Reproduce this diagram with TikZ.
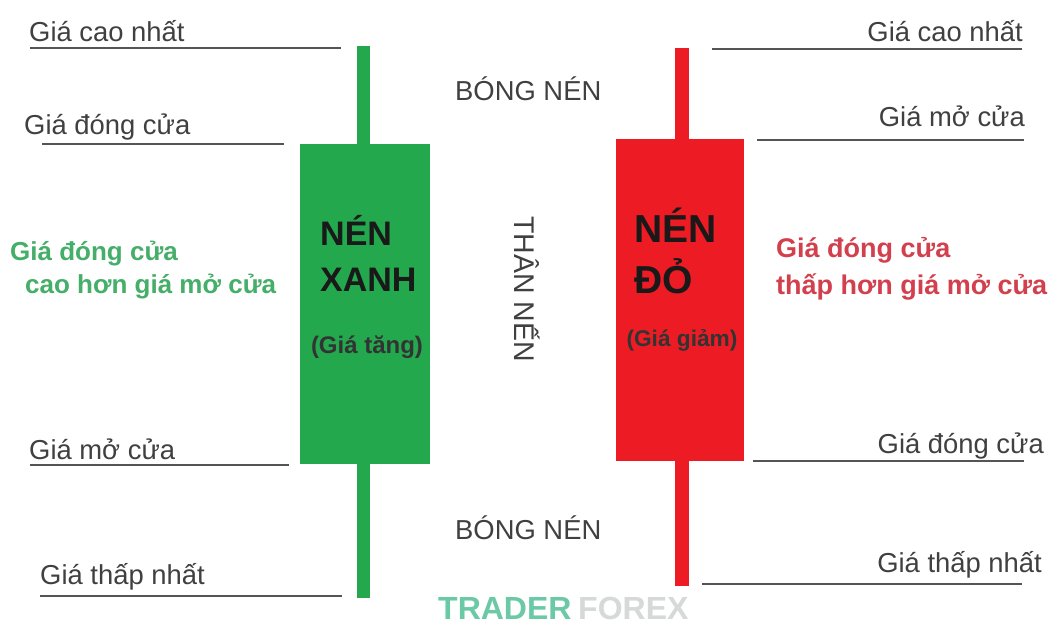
\documentclass[tikz,border=0pt]{standalone}
\usepackage{fontspec}
\setmainfont{Liberation Sans}
\definecolor{cgreen}{HTML}{23A84E}
\definecolor{cred}{HTML}{ED1C24}
\definecolor{cgray}{HTML}{555555}
\definecolor{tgreen}{HTML}{45AE68}
\definecolor{tred}{HTML}{D2404E}
\definecolor{wgreen}{HTML}{6CC9A6}
\definecolor{wgray}{HTML}{D5D9D8}
\tikzset{
  x=1pt,y=-1pt,
  lvl/.style={line width=2.2pt,draw=cgray},
  lab/.style={inner sep=0pt,text=black!75,font=\fontsize{27.4}{27.4}\selectfont},
  labl/.style={lab,anchor=base west},
  labr/.style={lab,anchor=base east},
  big/.style={inner sep=0pt,anchor=base west,text=black!90,font=\fontsize{34}{34}\selectfont\bfseries},
  bigr/.style={big,font=\fontsize{39}{39}\selectfont\bfseries},
  sub/.style={inner sep=0pt,anchor=base,text=black!80,font=\fontsize{24}{24}\selectfont\bfseries},
  subr/.style={sub,font=\fontsize{22.7}{22.7}\selectfont\bfseries},
  note/.style={inner sep=0pt,anchor=base west,font=\fontsize{26}{26}\selectfont\bfseries},
  noter/.style={note,font=\fontsize{27}{27}\selectfont\bfseries},
  wm/.style={inner sep=0pt,anchor=base west,font=\fontsize{32}{32}\selectfont\bfseries},
}
\begin{document}
\begin{tikzpicture}
\useasboundingbox (0,0) rectangle (1053,623);
\fill[white] (0,0) rectangle (1053,623);
% candles
\coordinate (gt) at (363.5,46); \coordinate (gb) at (363.5,598);
\coordinate (rt) at (682,48); \coordinate (rb) at (682,586);
\draw[cgreen,line width=13pt] (gt) -- (gb);
\draw[cred,line width=14pt] (rt) -- (rb);
\node[fill=cgreen,minimum width=130pt,minimum height=320pt,inner sep=0pt] (gbody) at (365,304) {};
\node[fill=cred,minimum width=128pt,minimum height=322pt,inner sep=0pt] (rbody) at (680,300) {};
% level lines
\coordinate (a1) at (30,48); \coordinate (a2) at (341,48);
\coordinate (b1) at (42,144); \coordinate (b2) at (284,144);
\coordinate (c1) at (30,465); \coordinate (c2) at (289,465);
\coordinate (d1) at (40,596); \coordinate (d2) at (342,596);
\coordinate (e1) at (712,49); \coordinate (e2) at (1022,49);
\coordinate (f1) at (757,140); \coordinate (f2) at (1024,140);
\coordinate (g1) at (753,461); \coordinate (g2) at (1024,461);
\coordinate (h1) at (702,584); \coordinate (h2) at (1022,584);
\foreach \p/\q in {a1/a2,b1/b2,c1/c2,d1/d2,e1/e2,f1/f2,g1/g2,h1/h2}
  \draw[lvl] (\p) -- (\q);
% left labels
\node[labl] (la) at (29,42) {Giá cao nhất};
\node[labl] (lb) at (24,135) {Giá đóng cửa};
\node[labl] (lc) at (29,459) {Giá mở cửa};
\node[labl] (ld) at (40,584) {Giá thấp nhất};
% right labels
\node[labr] (ra) at (1023,42) {Giá cao nhất};
\node[labr] (rb2) at (1025,127) {Giá mở cửa};
\node[labr] (rc) at (1044,453) {Giá đóng cửa};
\node[labr] (rd) at (1042,572) {Giá thấp nhất};
% centre labels
\node[labl] (s1) at (455,101) {BÓNG NÉN};
\node[labl] (s2) at (455,539) {BÓNG NÉN};
\node[lab,rotate=-90,anchor=center,font=\fontsize{28.5}{28.5}\selectfont] (s3) at (527,289) {THÂN NẾN};
% candle text
\node[big] (g1t) at (320,245) {NÉN};
\node[big] (g2t) at (320,291) {XANH};
\node[sub] (g3t) at (367,353) {(Giá tăng)};
\node[bigr] (r1t) at (634,242) {NÉN};
\node[bigr] (r2t) at (634,293) {ĐỎ};
\node[subr] (r3t) at (682,346) {(Giá giảm)};
% notes
\node[note,text=tgreen] (n1) at (10,260) {Giá đóng cửa};
\node[note,text=tgreen] (n2) at (25,293) {cao hơn giá mở cửa};
\node[noter,text=tred] (n3) at (776,258) {Giá đóng cửa};
\node[noter,text=tred] (n4) at (776,294) {thấp hơn giá mở cửa};
% watermark
\node[wm,text=wgreen] (w1) at (438,619) {TRADER};
\node[wm,text=wgray] (w2) at (578,619) {FOREX};
\end{tikzpicture}
\end{document}
